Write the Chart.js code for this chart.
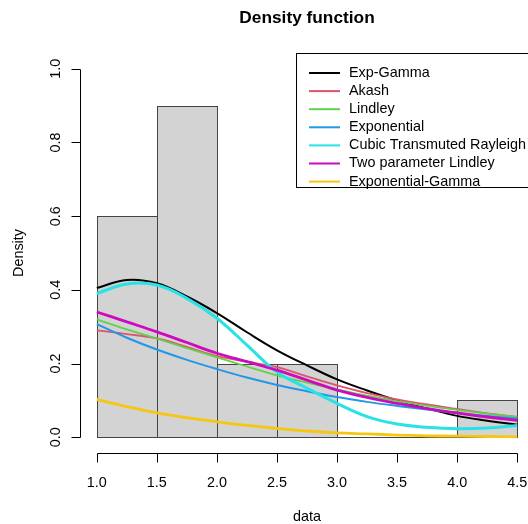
<!DOCTYPE html>
<html>
<head>
<meta charset="utf-8">
<script src="https://cdn.jsdelivr.net/npm/chart.js@4"></script>
<style>
    body { margin: 0; background: #fff; overflow: hidden; }
    canvas { display: block; }
</style>
</head>
<body>
<canvas id="chartDensidade" width="528" height="524"></canvas>
<script>
/* Density function - histogram + fitted densities */
const xGrid = [1.0, 1.25, 1.5, 1.75, 2.0, 2.25, 2.5, 2.75, 3.0, 3.25, 3.5, 3.75, 4.0, 4.25, 4.5];

const expGamma     = [0.405, 0.427, 0.418, 0.382, 0.337, 0.285, 0.236, 0.195, 0.157, 0.127, 0.100, 0.078, 0.058, 0.045, 0.034];
const akash        = [0.290, 0.280, 0.268, 0.245, 0.220, 0.205, 0.190, 0.165, 0.141, 0.120, 0.103, 0.089, 0.077, 0.065, 0.055];
const lindley      = [0.320, 0.293, 0.268, 0.242, 0.217, 0.192, 0.168, 0.148, 0.130, 0.113, 0.098, 0.085, 0.074, 0.064, 0.055];
const exponential  = [0.307, 0.270, 0.238, 0.210, 0.185, 0.162, 0.142, 0.125, 0.109, 0.096, 0.085, 0.075, 0.066, 0.058, 0.051];
const cubicRayleigh = [0.390, 0.416, 0.413, 0.377, 0.323, 0.250, 0.177, 0.133, 0.092, 0.056, 0.036, 0.027, 0.023, 0.025, 0.032];
const twoParLindley = [0.340, 0.313, 0.286, 0.257, 0.228, 0.205, 0.182, 0.155, 0.128, 0.108, 0.092, 0.078, 0.066, 0.055, 0.046];
const expGammaAlt  = [0.103, 0.083, 0.066, 0.053, 0.042, 0.032, 0.024, 0.017, 0.012, 0.009, 0.006, 0.004, 0.003, 0.002, 0.001];

const binStart   = [1.0, 1.5, 2.0, 2.5, 3.0, 3.5, 4.0];
const binEnd     = [1.5, 2.0, 2.5, 3.0, 3.5, 4.0, 4.5];
const binDensity = [0.6, 0.9, 0.2, 0.2, 0.0, 0.0, 0.1];

const xTicks = [1.0, 1.5, 2.0, 2.5, 3.0, 3.5, 4.0, 4.5];
const yTicks = [0.0, 0.2, 0.4, 0.6, 0.8, 1.0];

const seriesNames  = ['Exp-Gamma', 'Akash', 'Lindley', 'Exponential', 'Cubic Transmuted Rayleigh', 'Two parameter Lindley', 'Exponential-Gamma'];
const seriesValues = [expGamma, akash, lindley, exponential, cubicRayleigh, twoParLindley, expGammaAlt];
const seriesColors = ['#000000', '#DF536B', '#61D04F', '#2297E6', '#28E2E5', '#CD0BBC', '#F5C710'];
const seriesWidths = [2, 1.8, 1.8, 2, 3, 2.8, 2.8];

const FONT = '"Liberation Sans", Arial, sans-serif';

const rPlot = {
    id: 'rPlot',
    beforeDatasetsDraw(chart) {
        const { ctx, chartArea, scales: { x, y } } = chart;
        ctx.save();
        ctx.beginPath();
        ctx.rect(chartArea.left, chartArea.top, chartArea.right - chartArea.left, chartArea.bottom - chartArea.top);
        ctx.clip();
        ctx.lineWidth = 1;
        ctx.strokeStyle = '#444';
        ctx.fillStyle = '#D3D3D3';
        binStart.forEach((b, i) => {
            const x0 = Math.round(x.getPixelForValue(b)) + 0.5;
            const x1 = Math.round(x.getPixelForValue(binEnd[i])) + 0.5;
            const y0 = Math.round(y.getPixelForValue(0)) + 0.5;
            const y1 = Math.round(y.getPixelForValue(binDensity[i])) + 0.5;
            ctx.fillRect(x0, y1, x1 - x0, y0 - y1);
            ctx.strokeRect(x0, y1, x1 - x0, y0 - y1);
        });
        ctx.restore();
    },
    afterDraw(chart) {
        const { ctx, chartArea, scales: { x, y } } = chart;
        ctx.save();
        ctx.strokeStyle = '#000';
        ctx.fillStyle = '#000';
        ctx.lineWidth = 1;

        // eixo x
        const ax = chartArea.bottom + 1.5;
        const xa = Math.round(x.getPixelForValue(xTicks[0])) + 0.5;
        const xb = Math.round(x.getPixelForValue(xTicks[xTicks.length - 1])) + 0.5;
        ctx.beginPath();
        ctx.moveTo(xa, ax); ctx.lineTo(xb, ax);
        xTicks.forEach(t => {
            const px = Math.round(x.getPixelForValue(t)) + 0.5;
            ctx.moveTo(px, ax); ctx.lineTo(px, ax + 9);
        });
        ctx.stroke();
        ctx.font = '14.4px ' + FONT;
        ctx.textAlign = 'center';
        ctx.textBaseline = 'middle';
        xTicks.forEach(t => ctx.fillText(t.toFixed(1), x.getPixelForValue(t), 483));

        // eixo y
        const ay = chartArea.left + 0.5;
        const ya = Math.round(y.getPixelForValue(yTicks[0])) + 0.5;
        const yb = Math.round(y.getPixelForValue(yTicks[yTicks.length - 1])) + 0.5;
        ctx.beginPath();
        ctx.moveTo(ay, ya); ctx.lineTo(ay, yb);
        yTicks.forEach(t => {
            const py = Math.round(y.getPixelForValue(t)) + 0.5;
            ctx.moveTo(ay, py); ctx.lineTo(ay - 9, py);
        });
        ctx.stroke();
        yTicks.forEach(t => {
            ctx.save();
            ctx.translate(56, y.getPixelForValue(t));
            ctx.rotate(-Math.PI / 2);
            ctx.fillText(t.toFixed(1), 0, 0);
            ctx.restore();
        });

        // titulos
        const cx = (x.getPixelForValue(0.86) + x.getPixelForValue(4.64)) / 2;
        const cy = (chartArea.top + chartArea.bottom) / 2;
        ctx.fillText('data', cx, 517);
        ctx.save();
        ctx.translate(19, cy);
        ctx.rotate(-Math.PI / 2);
        ctx.fillText('Density', 0, 0);
        ctx.restore();
        ctx.font = 'bold 17.3px ' + FONT;
        ctx.fillText('Density function', cx, 18);

        // legenda
        ctx.fillStyle = '#fff';
        ctx.fillRect(296.5, 53.5, 250, 134);
        ctx.strokeRect(296.5, 53.5, 250, 134);
        ctx.font = '14.4px ' + FONT;
        ctx.textAlign = 'left';
        seriesNames.forEach((nome, i) => {
            const ly = 73 + i * 18.1;
            ctx.strokeStyle = seriesColors[i];
            ctx.lineWidth = 2;
            ctx.beginPath();
            ctx.moveTo(309, ly); ctx.lineTo(340, ly);
            ctx.stroke();
            ctx.fillStyle = '#000';
            ctx.fillText(nome, 349, ly);
        });
        ctx.restore();
    }
};

new Chart(document.getElementById('chartDensidade'), {
    type: 'line',
    data: {
        datasets: seriesNames.map((nome, i) => ({
            label: nome,
            data: xGrid.map((v, k) => ({ x: v, y: seriesValues[i][k] })),
            borderColor: seriesColors[i],
            borderWidth: seriesWidths[i],
            pointRadius: 0,
            tension: 0.4,
            fill: false,
            order: seriesNames.length - 1 - i,
        }))
    },
    options: {
        responsive: false,
        animation: false,
        events: [],
        layout: { padding: { left: 80, right: 0, top: 54, bottom: 72 } },
        plugins: { legend: { display: false }, tooltip: { enabled: false }, title: { display: false } },
        scales: {
            x: { type: 'linear', min: 0.86, max: 4.59, display: false },
            y: { type: 'linear', min: -0.04, max: 1.04, display: false }
        }
    },
    plugins: [rPlot]
});
</script>
</body>
</html>
